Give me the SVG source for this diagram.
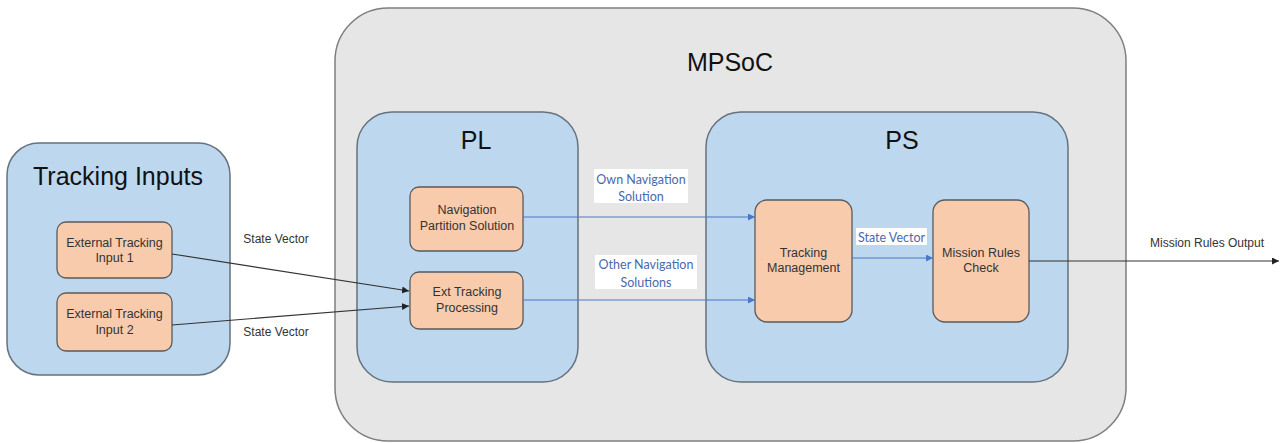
<svg xmlns="http://www.w3.org/2000/svg" width="1283" height="443" viewBox="0 0 1283 443">
<style>
.outer{fill:#e6e6e6;stroke:#7f7f7f;stroke-width:1.5}
.cont{fill:#bdd7ee;stroke:#66727e;stroke-width:1.5}
.node{fill:#f8cbad;stroke:#5a5a5a;stroke-width:1.3}
.title{font-family:"Liberation Sans",Arial,sans-serif;fill:#111;text-anchor:middle}
.nt{font-family:"Liberation Sans",Arial,sans-serif;font-size:12.5px;fill:#333;text-anchor:middle;dominant-baseline:central}
.lbl{font-family:"Liberation Sans",Arial,sans-serif;font-size:12px;fill:#333;text-anchor:middle;dominant-baseline:central}
.bl{font-family:Lato,"Open Sans",sans-serif;font-size:12.5px;fill:#4a68ad;text-anchor:middle;dominant-baseline:central}
.k{stroke:#333;stroke-width:1.2;fill:none}
.b{stroke:#4a78c8;stroke-width:1.2;fill:none}
</style>
<defs>
<marker id="ak" viewBox="0 0 10 10" refX="10" refY="5" markerWidth="7" markerHeight="7" markerUnits="userSpaceOnUse" orient="auto"><path d="M0,0 L10,5 L0,10 z" fill="#222"/></marker>
<marker id="ab" viewBox="0 0 10 10" refX="10" refY="5" markerWidth="7" markerHeight="7" markerUnits="userSpaceOnUse" orient="auto"><path d="M0,0 L10,5 L0,10 z" fill="#4a78c8"/></marker>
</defs>
<rect width="1283" height="443" fill="#ffffff"/>

<g id="tracking-inputs">
<rect class="cont" x="7" y="143" width="223" height="232" rx="32"/>
<text class="title" x="118" y="185" font-size="25">Tracking Inputs</text>
</g>
<g id="input1">
<rect class="node" x="57" y="222" width="115" height="56" rx="9"/>
<text class="nt" x="114.5" y="243">External Tracking</text>
<text class="nt" x="114.5" y="258">Input 1</text>
</g>
<g id="input2">
<rect class="node" x="57" y="293" width="115" height="58" rx="9"/>
<text class="nt" x="114.5" y="314">External Tracking</text>
<text class="nt" x="114.5" y="330">Input 2</text>
</g>

<g id="mpsoc">
<rect class="outer" x="335" y="8" width="791" height="433" rx="53"/>
<text class="title" x="730" y="71" font-size="25">MPSoC</text>
</g>
<g id="pl">
<rect class="cont" x="357" y="112" width="221" height="270" rx="35"/>
<text class="title" x="476" y="149" font-size="25">PL</text>
</g>
<g id="ps">
<rect class="cont" x="706" y="112" width="362" height="270" rx="35"/>
<text class="title" x="902" y="149" font-size="25">PS</text>
</g>
<g id="nav-partition">
<rect class="node" x="410" y="187" width="113" height="64" rx="9"/>
<text class="nt" x="467" y="210">Navigation</text>
<text class="nt" x="467" y="226">Partition Solution</text>
</g>
<g id="ext-tracking">
<rect class="node" x="410" y="272" width="113" height="57" rx="9"/>
<text class="nt" x="467" y="292">Ext Tracking</text>
<text class="nt" x="467" y="308">Processing</text>
</g>
<g id="tracking-mgmt">
<rect class="node" x="755" y="200" width="97" height="122" rx="12"/>
<text class="nt" x="803.5" y="253">Tracking</text>
<text class="nt" x="803.5" y="268">Management</text>
</g>
<g id="mission-rules">
<rect class="node" x="933" y="200" width="96" height="122" rx="12"/>
<text class="nt" x="981" y="253">Mission Rules</text>
<text class="nt" x="981" y="268">Check</text>
</g>

<g id="connectors">
<line class="k" x1="172" y1="254" x2="409" y2="291" marker-end="url(#ak)"/>
<line class="k" x1="172" y1="325" x2="409" y2="306" marker-end="url(#ak)"/>
<text class="lbl" x="276" y="239">State Vector</text>
<text class="lbl" x="276" y="332">State Vector</text>
<line class="b" x1="523" y1="217" x2="755" y2="217" marker-end="url(#ab)"/>
<line class="b" x1="523" y1="300" x2="755" y2="300" marker-end="url(#ab)"/>
<rect x="594" y="169" width="94" height="34" fill="#ffffff"/>
<text class="bl" x="641" y="179">Own Navigation</text>
<text class="bl" x="641" y="196">Solution</text>
<rect x="595" y="255" width="102" height="34" fill="#ffffff"/>
<text class="bl" x="646" y="264">Other Navigation</text>
<text class="bl" x="646" y="282">Solutions</text>
<line class="b" x1="852" y1="258" x2="933" y2="258" marker-end="url(#ab)"/>
<rect x="856" y="228" width="71" height="17" fill="#ffffff"/>
<text class="bl" x="891.5" y="237">State Vector</text>
<line class="k" x1="1029" y1="261" x2="1279" y2="261" marker-end="url(#ak)"/>
<text class="lbl" x="1207" y="243">Mission Rules Output</text>
</g>
</svg>
